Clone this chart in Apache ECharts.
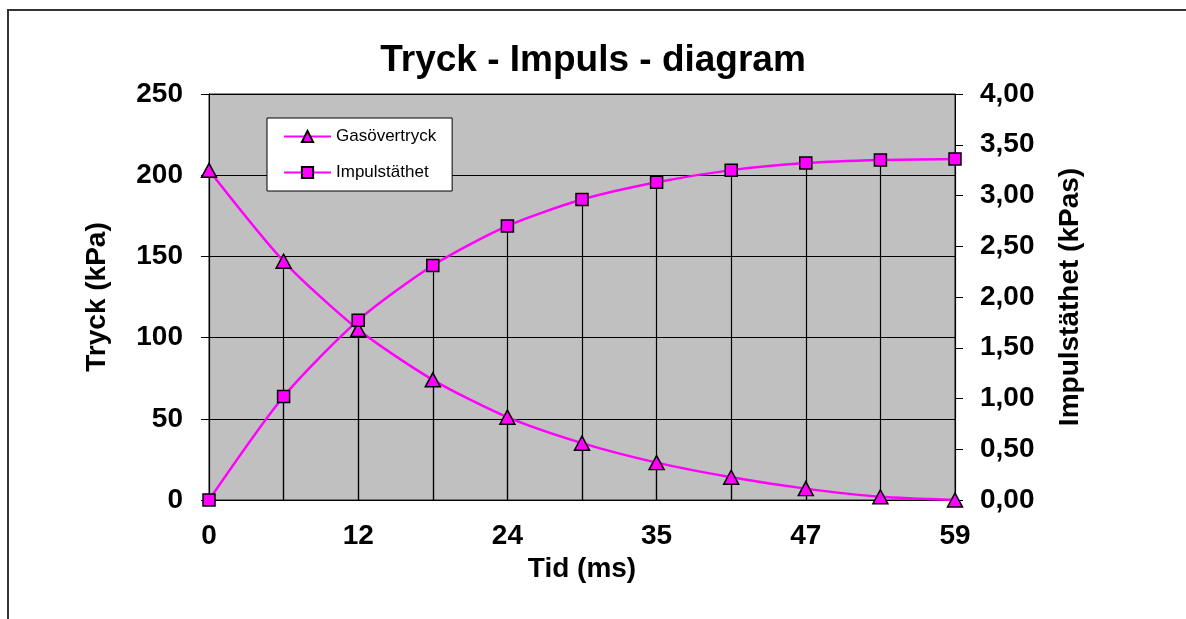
<!DOCTYPE html>
<html>
<head>
<meta charset="utf-8">
<script src="https://cdn.jsdelivr.net/npm/echarts@6/dist/echarts.min.js"></script>
<style>
  html, body { margin: 0; padding: 0; background: #fff; }
  #chart { width: 1186px; height: 619px; }
</style>
</head>
<body>
<div id="chart"></div>
<script>
const categories = ['0', '6', '12', '18', '24', '30', '35', '41', '47', '53', '59'];
const gasovertryck = [203, 147, 105, 74, 51, 35, 23, 14, 7, 2, 0];
const impulstathet = [0, 1.02, 1.77, 2.31, 2.70, 2.96, 3.13, 3.25, 3.32, 3.35, 3.36];
const leftAxisRange = [0, 250, 50];
const rightAxisRange = [0, 4, 0.5];

const FONT = 'Liberation Sans, Arial, sans-serif';
const MAGENTA = '#FF00FF';

function dropLines(values) {
  return values.map((v, i) => [
    { coord: [categories[i], v] },
    { coord: [categories[i], 0] }
  ]);
}

const chart = echarts.init(document.getElementById('chart'), null, { renderer: 'canvas' });
chart.setOption({
  animation: false,
  backgroundColor: '#ffffff',
  title: {
    text: 'Tryck - Impuls - diagram',
    left: 'center',
    top: 37,
    textStyle: { fontFamily: FONT, fontSize: 37, fontWeight: 'bold', color: '#000' }
  },
  graphic: [{
    type: 'polyline',
    silent: true,
    shape: { points: [[8, 619], [8, 10], [1186, 10]] },
    style: { stroke: '#333', lineWidth: 2, fill: null }
  }],
  legend: {
    orient: 'vertical',
    left: 267,
    top: 118,
    padding: [10, 16, 10, 16],
    itemGap: 19,
    itemWidth: 47,
    itemHeight: 14,
    backgroundColor: '#fff',
    borderColor: '#000',
    borderWidth: 1,
    textStyle: { fontFamily: FONT, fontSize: 17, color: '#000' },
    data: ['Gasövertryck', 'Impulstäthet']
  },
  grid: {
    left: 209, right: 231, top: 94, bottom: 119,
    show: true,
    backgroundColor: '#C0C0C0',
    borderColor: '#222',
    borderWidth: 1
  },
  xAxis: {
    type: 'category',
    data: categories,
    boundaryGap: false,
    name: 'Tid (ms)',
    nameLocation: 'middle',
    nameGap: 48,
    nameTextStyle: { fontFamily: FONT, fontSize: 28, fontWeight: 'bold', color: '#000' },
    axisLine: { lineStyle: { color: '#000', width: 1 } },
    axisTick: { show: false },
    axisLabel: { interval: 1, margin: 22, fontFamily: FONT, fontSize: 28, fontWeight: 'bold', color: '#000' },
    splitLine: { show: false }
  },
  yAxis: [{
    type: 'value',
    position: 'left',
    min: leftAxisRange[0], max: leftAxisRange[1], interval: leftAxisRange[2],
    name: 'Tryck (kPa)',
    nameLocation: 'middle',
    nameGap: 98,
    nameTextStyle: { fontFamily: FONT, fontSize: 28, fontWeight: 'bold', color: '#000' },
    axisLine: { show: true, lineStyle: { color: '#000', width: 1 } },
    axisTick: { show: true, length: 8, lineStyle: { color: '#000' } },
    axisLabel: { margin: 26, fontFamily: FONT, fontSize: 28, fontWeight: 'bold', color: '#000' },
    splitLine: { show: true, lineStyle: { color: '#000', width: 1 } }
  }, {
    type: 'value',
    position: 'right',
    min: rightAxisRange[0], max: rightAxisRange[1], interval: rightAxisRange[2],
    name: 'Impulstäthet (kPas)',
    nameLocation: 'middle',
    nameGap: 101,
    nameTextStyle: { fontFamily: FONT, fontSize: 28, fontWeight: 'bold', color: '#000' },
    axisLine: { show: true, lineStyle: { color: '#000', width: 1 } },
    axisTick: { show: true, length: 8, lineStyle: { color: '#000' } },
    axisLabel: {
      margin: 25, fontFamily: FONT, fontSize: 28, fontWeight: 'bold', color: '#000',
      formatter: v => v.toFixed(2).replace('.', ',')
    },
    splitLine: { show: false }
  }],
  series: [{
    name: 'Gasövertryck',
    type: 'line',
    yAxisIndex: 0,
    data: gasovertryck,
    smooth: 0.25,
    symbol: 'triangle',
    symbolSize: [15, 14],
    lineStyle: { color: MAGENTA, width: 2.5 },
    itemStyle: { color: MAGENTA, borderColor: '#000', borderWidth: 1.5 },
    z: 3,
    markLine: {
      silent: true,
      z: 1,
      symbol: ['none', 'none'],
      label: { show: false },
      lineStyle: { color: '#000', width: 1.2, type: 'solid' },
      emphasis: { disabled: true },
      data: dropLines(gasovertryck)
    }
  }, {
    name: 'Impulstäthet',
    type: 'line',
    yAxisIndex: 1,
    data: impulstathet,
    smooth: 0.25,
    symbol: 'rect',
    symbolSize: 12,
    lineStyle: { color: MAGENTA, width: 2.5 },
    itemStyle: { color: MAGENTA, borderColor: '#000', borderWidth: 1.5 },
    z: 4,
    markLine: {
      silent: true,
      z: 1,
      symbol: ['none', 'none'],
      label: { show: false },
      lineStyle: { color: '#000', width: 1.2, type: 'solid' },
      emphasis: { disabled: true },
      data: dropLines(impulstathet)
    }
  }]
});
</script>
</body>
</html>
